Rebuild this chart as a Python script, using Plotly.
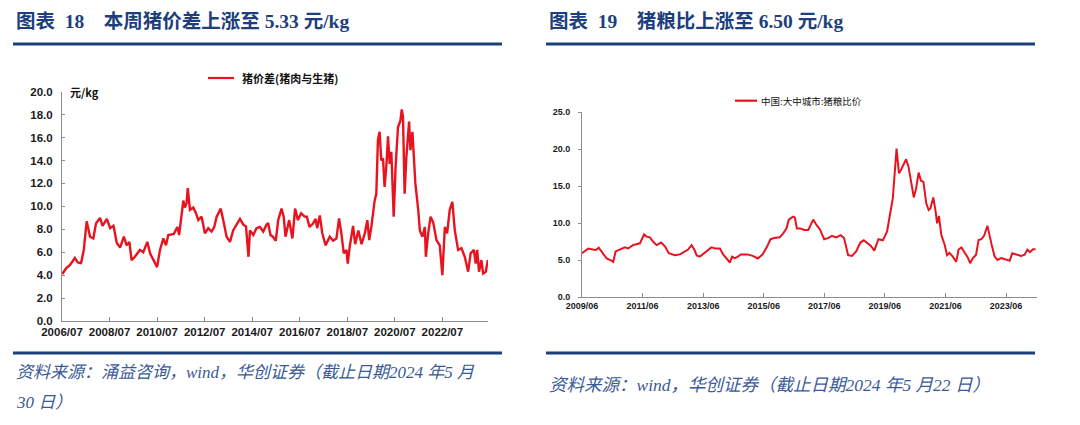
import plotly.graph_objects as go

# ---------------- data ----------------
left_dates = ["2006-07-07","2006-09-01","2006-11-01","2007-01-15","2007-03-01","2007-04-20","2007-06-01","2007-07-15",
"2007-09-05","2007-10-25","2007-12-05","2008-02-05","2008-03-15","2008-05-20","2008-07-10","2008-08-30","2008-10-20",
"2008-12-10","2009-02-05","2009-03-20","2009-05-01","2009-06-05","2009-07-25","2009-10-10","2009-12-01","2010-02-01",
"2010-03-15","2010-05-15","2010-07-01","2010-08-15","2010-10-05","2010-11-15","2010-12-20","2011-03-15","2011-05-08",
"2011-06-05","2011-07-12","2011-08-08","2011-09-01","2011-09-28","2011-10-15","2011-11-18","2012-01-08","2012-02-18",
"2012-03-25","2012-05-15","2012-07-05","2012-08-25","2012-10-15","2012-11-25","2013-01-01","2013-03-05","2013-04-12",
"2013-06-03","2013-07-25","2013-09-12","2013-12-25","2014-02-15","2014-03-28","2014-04-22","2014-05-05","2014-05-28",
"2014-07-18","2014-09-05","2014-10-28","2014-12-18","2015-02-05","2015-03-03","2015-04-08","2015-05-15","2015-06-28",
"2015-08-05","2015-09-25","2015-10-28","2015-11-25","2016-01-20","2016-03-10","2016-04-20","2016-06-03","2016-07-22",
"2016-09-12","2016-10-18","2016-11-28","2017-01-20","2017-03-01","2017-03-25","2017-05-05","2017-06-12","2017-08-02",
"2017-10-05","2017-11-25","2018-01-15","2018-02-25","2018-04-01","2018-05-08","2018-06-18","2018-07-08","2018-08-08",
"2018-09-28","2018-10-30","2018-12-18","2019-02-05","2019-03-28","2019-05-05","2019-06-03","2019-07-08","2019-08-25",
"2019-09-20","2019-10-15","2019-11-10","2019-12-05","2020-01-01","2020-01-25","2020-02-20","2020-03-18","2020-04-12",
"2020-05-08","2020-06-13","2020-07-12","2020-08-18","2020-09-25","2020-10-15","2020-11-03","2020-11-28","2020-12-25",
"2021-02-05","2021-02-25","2021-03-28","2021-04-15","2021-05-12","2021-06-25","2021-07-20","2021-08-28","2021-10-05",
"2021-10-20","2021-11-25","2022-01-01","2022-02-10","2022-04-01","2022-05-22","2022-07-01","2022-08-08","2022-09-12",
"2022-10-22","2022-12-01","2023-01-08","2023-02-28","2023-04-20","2023-06-10","2023-08-01","2023-09-08","2023-10-28",
"2023-11-25","2023-12-18","2024-01-15","2024-02-20","2024-03-18","2024-04-28","2024-05-30"]
left_values = [4.1,4.6,4.9,5.5,5.1,5.05,6.2,8.7,
7.35,7.2,8.5,9.0,8.3,8.9,8.1,8.3,6.8,
6.4,7.35,6.6,6.9,5.3,5.6,6.2,6.0,6.9,
5.9,5.2,4.7,6.2,7.2,6.6,7.5,7.6,8.2,
7.5,9.4,10.5,9.9,10.3,11.6,9.7,9.9,9.4,
8.8,9.1,7.65,8.1,7.8,8.2,9.1,9.8,8.8,
7.35,6.9,7.9,8.9,8.4,8.25,6.8,5.6,7.9,
7.5,8.1,8.2,7.8,8.4,8.55,7.5,7.35,7.0,
8.8,9.8,9.1,7.35,8.8,7.2,9.8,8.8,9.4,
9.1,9.1,8.2,8.5,8.9,8.1,9.2,7.65,6.6,
7.35,7.0,7.2,8.95,7.65,5.9,6.2,5.0,6.5,
8.3,6.7,7.9,6.7,7.65,8.8,7.05,8.3,10.5,
11.1,15.8,16.5,14.0,14.2,11.7,13.4,16.1,13.7,
14.75,9.1,13.4,16.9,17.5,18.45,17.8,11.1,14.3,
17.4,14.9,16.5,14.9,12.0,9.7,7.9,7.35,8.2,
5.6,7.65,9.1,8.6,7.05,6.6,4.0,8.2,7.65,
9.7,10.4,7.9,6.2,6.35,5.6,4.3,5.9,6.2,
5.0,6.2,4.3,5.3,4.15,4.3,5.33]

right_dates = ["2009-06-01","2009-08-15","2009-10-12","2009-11-15","2009-12-20","2010-01-22","2010-03-25","2010-05-22",
"2010-06-12","2010-07-12","2010-08-28","2010-10-30","2010-12-10","2011-02-05","2011-05-01","2011-06-20","2011-07-20",
"2011-08-28","2011-10-08","2011-11-18","2012-01-12","2012-02-28","2012-04-12","2012-06-25","2012-08-25","2012-10-22",
"2012-12-01","2013-01-12","2013-02-14","2013-03-15","2013-04-22","2013-06-12","2013-07-30","2013-09-08","2013-10-25",
"2013-12-20","2014-01-30","2014-03-10","2014-04-20","2014-05-15","2014-06-18","2014-07-20","2014-08-28","2014-11-18",
"2015-01-20","2015-03-22","2015-05-20","2015-07-12","2015-08-22","2015-10-08","2015-12-10","2016-01-20","2016-03-01",
"2016-03-30","2016-05-20","2016-06-10","2016-07-05","2016-08-18","2016-10-05","2016-11-20","2017-01-18","2017-02-28",
"2017-04-08","2017-05-30","2017-07-15","2017-09-01","2017-10-22","2017-12-15","2018-01-25","2018-03-15","2018-05-01",
"2018-06-20","2018-08-10","2018-09-20","2018-11-05","2018-12-15","2019-01-25","2019-03-15","2019-05-08","2019-06-28",
"2019-08-08","2019-09-05","2019-10-20","2019-11-18","2019-12-12","2020-01-22","2020-02-12","2020-03-12","2020-04-12",
"2020-05-15","2020-06-12","2020-07-12","2020-08-10","2020-09-08","2020-10-12","2020-11-10","2020-12-01","2021-01-05",
"2021-02-02","2021-02-20","2021-03-14","2021-04-12","2021-05-22","2021-06-20","2021-07-20","2021-08-28","2021-10-08",
"2021-11-06","2021-12-10","2022-01-20","2022-03-01","2022-03-25","2022-04-28","2022-06-05","2022-07-05","2022-08-08",
"2022-09-10","2022-10-20","2022-11-15","2022-12-15","2023-01-15","2023-02-18","2023-04-05","2023-06-05","2023-07-15",
"2023-08-15","2023-10-05","2023-12-01","2024-01-12","2024-02-14","2024-03-15","2024-04-22","2024-05-22"]
right_values = [5.95,6.6,6.45,6.4,6.7,6.2,5.25,4.95,
4.8,6.2,6.45,6.75,6.6,7.05,7.3,8.5,8.2,
8.1,7.5,7.05,7.4,6.85,5.95,5.7,5.8,6.2,
6.45,7.05,6.45,5.65,5.5,5.95,6.45,6.75,6.6,
6.6,5.75,5.3,4.7,5.5,5.3,5.45,5.8,5.8,
5.6,5.25,5.8,6.85,7.85,8.0,8.1,8.6,9.3,
10.5,10.9,10.8,9.3,9.3,9.1,9.1,10.5,9.75,
9.2,7.85,8.0,8.3,8.1,8.4,8.0,5.7,5.6,
6.2,7.4,7.7,7.25,6.95,6.3,7.85,7.7,8.9,
11.6,13.4,20.1,16.75,17.2,18.1,18.65,17.65,15.4,
13.5,14.7,16.85,15.75,15.6,12.7,11.8,12.0,13.5,
11.6,10.0,11.0,8.4,7.1,5.7,6.0,5.5,4.8,
6.45,6.75,6.0,5.3,4.6,5.3,5.75,7.75,7.85,
8.3,9.65,8.2,6.85,5.5,5.05,5.3,5.15,4.95,
5.95,5.75,5.6,5.75,6.45,6.1,6.5,6.5]

left_title = "图表  18　本周猪价差上涨至 5.33 元/kg"
right_title = "图表  19　猪粮比上涨至 6.50 元/kg"
left_series = "猪价差(猪肉与生猪)"
right_series = "中国:大中城市:猪粮比价"
left_unit = "元/kg"
left_source_1 = "资料来源：涌益咨询，wind，华创证券（截止日期2024 年5 月"
left_source_2 = "30 日）"
right_source = "资料来源：wind，华创证券（截止日期2024 年5 月22 日）"

# ---------------- layout helpers ----------------
W, H = 1080, 425
def px(x): return x / W
def py(y): return 1 - y / H

RED = "#E8131E"
NAVY = "#1D3F7D"
SRC = "#3A5A96"
AX = "#8C8C8C"
TICKFONT = "Liberation Sans, Arial, sans-serif"
CJK = "Liberation Serif, Noto Sans CJK SC, serif"

fig = go.Figure()
fig.add_trace(go.Scatter(x=left_dates, y=left_values, mode="lines", line=dict(color=RED, width=2.4),
                         xaxis="x", yaxis="y", showlegend=False))
fig.add_trace(go.Scatter(x=right_dates, y=right_values, mode="lines", line=dict(color=RED, width=2),
                         xaxis="x2", yaxis="y2", showlegend=False))

common_axis = dict(showgrid=False, zeroline=False, showline=True, linecolor=AX, linewidth=1,
                   ticks="inside", tickcolor=AX, fixedrange=True, automargin=False)

fig.update_layout(
    width=W, height=H, margin=dict(l=0, r=0, t=0, b=0, pad=0, autoexpand=False),
    autosize=False, showlegend=False,
    paper_bgcolor="white", plot_bgcolor="white",
    xaxis=dict(common_axis, domain=[px(62), px(488)], anchor="y", type="date",
               range=["2006-07-01", "2024-06-01"], tick0="2006-07-01", dtick="M24", tickformat="%Y/%m",
               ticklen=4, tickfont=dict(family=TICKFONT, size=11.5, color="#1a1a1a", weight="bold")),
    yaxis=dict(common_axis, domain=[py(321), py(91.7)], anchor="x", range=[0, 20], dtick=2,
               tickformat=".1f", ticklen=3, ticklabelstandoff=6,
               tickfont=dict(family=TICKFONT, size=11.5, color="#1a1a1a", weight="bold")),
    xaxis2=dict(common_axis, domain=[px(582), px(1036.7)], anchor="y2", type="date",
                range=["2009-06-01", "2024-06-05"], tick0="2009-06-01", dtick="M24", tickformat="%Y/%m",
                ticklen=4, tickfont=dict(family=TICKFONT, size=9, color="#1a1a1a", weight="bold")),
    yaxis2=dict(common_axis, domain=[py(297.3), py(112.3)], anchor="x2", range=[0, 25], dtick=5,
                tickformat=".1f", ticks="outside", ticklen=3, ticklabelstandoff=6,
                tickfont=dict(family=TICKFONT, size=9, color="#1a1a1a", weight="bold")),
)

shapes = []
# header and footer rules
for (x0, x1) in [(13, 502), (546, 1035)]:
    for y in (44, 353):
        shapes.append(dict(type="line", xref="paper", yref="paper", x0=px(x0), x1=px(x1), y0=py(y), y1=py(y),
                           line=dict(color=NAVY, width=3)))
# legend samples
shapes.append(dict(type="line", xref="paper", yref="paper", x0=px(208), x1=px(234), y0=py(78), y1=py(78),
                   line=dict(color=RED, width=2.2)))
shapes.append(dict(type="line", xref="paper", yref="paper", x0=px(735), x1=px(757), y0=py(100.7), y1=py(100.7),
                   line=dict(color=RED, width=2.2)))
fig.update_layout(shapes=shapes)

ann = []
ann.append(dict(text=left_title, x=px(14), y=py(21), xanchor="left", yanchor="middle",
                font=dict(family=CJK, size=19.5, color=NAVY, weight="bold")))
ann.append(dict(text=right_title, x=px(547), y=py(21), xanchor="left", yanchor="middle",
                font=dict(family=CJK, size=19.5, color=NAVY, weight="bold")))
ann.append(dict(text=left_series, x=px(240), y=py(78), xanchor="left", yanchor="middle",
                font=dict(family="Noto Sans CJK SC", size=11, color="#111", weight="bold")))
ann.append(dict(text=right_series, x=px(759), y=py(100.7), xanchor="left", yanchor="middle",
                font=dict(family="Noto Sans CJK SC", size=9.5, color="#111")))
ann.append(dict(text=left_unit, x=px(68), y=py(92), xanchor="left", yanchor="middle",
                font=dict(family="Noto Sans CJK SC", size=11, color="#111", weight="bold")))
ann.append(dict(text="<i>" + left_source_1 + "</i>", x=px(14), y=py(372), xanchor="left", yanchor="middle",
                align="left", font=dict(family=CJK, size=17, color=SRC)))
ann.append(dict(text="<i>" + left_source_2 + "</i>", x=px(14), y=py(402), xanchor="left", yanchor="middle",
                align="left", font=dict(family=CJK, size=17, color=SRC)))
ann.append(dict(text="<i>" + right_source + "</i>", x=px(547), y=py(385), xanchor="left", yanchor="middle",
                align="left", font=dict(family=CJK, size=17.5, color=SRC)))
for a in ann:
    a.update(xref="paper", yref="paper", showarrow=False)
fig.update_layout(annotations=ann)

fig.write_html("out.html", config={"displayModeBar": False, "staticPlot": True},
               post_script="document.body.style.margin='0px';document.body.style.overflow='hidden';")
